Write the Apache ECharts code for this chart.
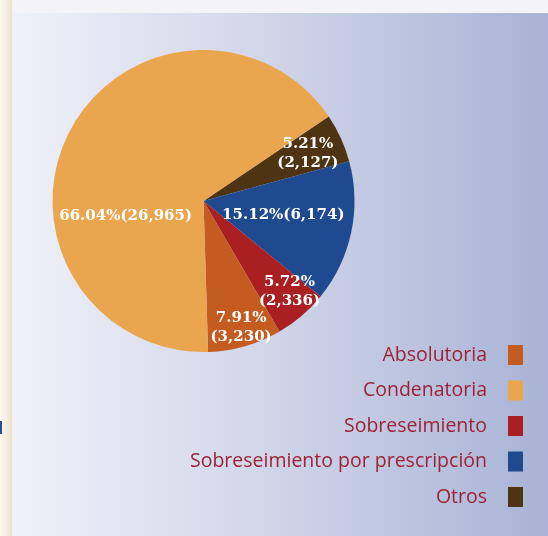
<!DOCTYPE html>
<html>
<head>
<meta charset="utf-8">
<style>
html,body{margin:0;padding:0;}
#chart{width:548px;height:536px;}
</style>
<script src="https://cdn.jsdelivr.net/npm/echarts@6/dist/echarts.min.js"></script>
</head>
<body>
<div id="chart"></div>
<script>
// Data (pie order clockwise from the top-right boundary)
const categories = ['Otros', 'Sobreseimiento por prescripción', 'Sobreseimiento', 'Absolutoria', 'Condenatoria'];
const values = [2127, 6174, 2336, 3230, 26965];
const legendOrder = ['Absolutoria', 'Condenatoria', 'Sobreseimiento', 'Sobreseimiento por prescripción', 'Otros'];

const colors = {
  'Absolutoria': '#c45b20',
  'Condenatoria': '#e9a64f',
  'Sobreseimiento': '#a91f22',
  'Sobreseimiento por prescripción': '#1f4a90',
  'Otros': '#4f3414'
};
const twoLine = {'Otros': true, 'Sobreseimiento': true, 'Absolutoria': true};
const labelOffsets = {
  'Otros': [33, -15],
  'Sobreseimiento por prescripción': [3, -2],
  'Sobreseimiento': [35, 31],
  'Absolutoria': [16, 51],
  'Condenatoria': [-8, 51]
};

const chart = echarts.init(document.getElementById('chart'), null, {renderer: 'canvas'});

const seriesData = categories.map((c, i) => ({
  name: c,
  value: values[i],
  itemStyle: {color: colors[c]},
  label: {offset: labelOffsets[c]}
}));

chart.setOption({
  animation: false,
  backgroundColor: new echarts.graphic.LinearGradient(0, 0, 1, 0, [
    {offset: 0, color: '#f1f3f9'},
    {offset: 0.5, color: '#cfd4e8'},
    {offset: 1, color: '#a8b3d5'}
  ]),
  graphic: [
    {type: 'rect', shape: {x: 0, y: 0, width: 548, height: 13}, style: {fill: '#f3f3f8'}, z: -1},
    {type: 'rect', shape: {x: 0, y: 0, width: 12, height: 536},
      style: {fill: new echarts.graphic.LinearGradient(0, 0, 1, 0, [
        {offset: 0, color: '#fdfbf7'}, {offset: 1, color: '#ede0c8'}
      ])}, z: -1},
    {type: 'rect', shape: {x: 0, y: 421, width: 2, height: 13}, style: {fill: '#2a4d8f'}}
  ],
  legend: {
    orient: 'vertical',
    right: 25,
    top: 345,
    padding: 0,
    align: 'right',
    itemWidth: 15,
    itemHeight: 20,
    itemGap: 15.5,
    icon: 'rect',
    data: legendOrder,
    textStyle: {
      fontFamily: 'Open Sans',
      fontSize: 19.5,
      color: '#9b2335',
      padding: [0, 16, 0, 0]
    }
  },
  series: [{
    type: 'pie',
    center: [203.5, 201],
    radius: [0, 151],
    startAngle: 34,
    clockwise: true,
    avoidLabelOverlap: false,
    labelLayout: {hideOverlap: false},
    label: {
      show: true,
      position: 'inside',
      color: '#ffffff',
      fontFamily: 'DejaVu Serif',
      fontWeight: 'bold',
      fontSize: 15,
      lineHeight: 19,
      align: 'center',
      formatter: function (p) {
        const sep = twoLine[p.name] ? '\n' : '';
        return p.percent.toFixed(2) + '%' + sep + '(' + p.value.toLocaleString('en-US') + ')';
      }
    },
    labelLine: {show: false},
    emphasis: {disabled: true},
    data: seriesData
  }]
});
</script>
</body>
</html>
